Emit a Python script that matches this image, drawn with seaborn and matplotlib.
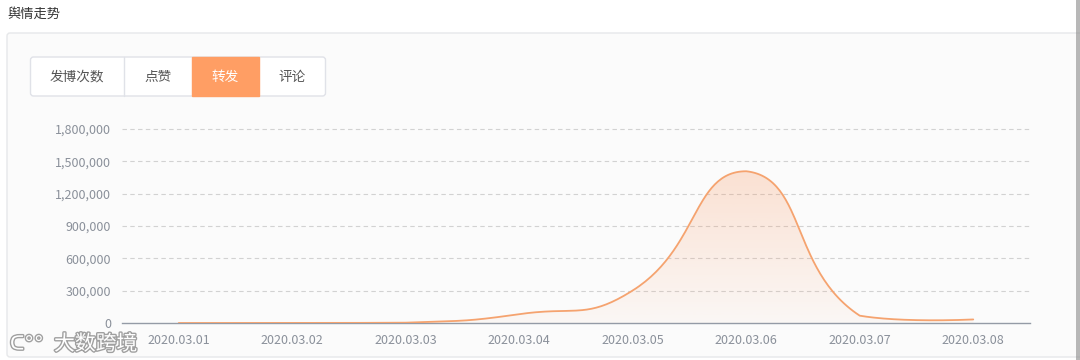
import numpy as np
import pandas as pd
import matplotlib
matplotlib.use("Agg")
import matplotlib.pyplot as plt
import seaborn as sns
from matplotlib.patches import Rectangle, FancyBboxPatch, Polygon
import matplotlib.patheffects as pe

# ---------------- data ----------------
dates = ["2020.03.01", "2020.03.02", "2020.03.03", "2020.03.04",
         "2020.03.05", "2020.03.06", "2020.03.07", "2020.03.08"]
reposts = [0, 800, 3000, 82000, 302000, 1408000, 68000, 33000]
y_ticks = [0, 300000, 600000, 900000, 1200000, 1500000, 1800000]
tabs = ["发博次数", "点赞", "转发", "评论"]
active_tab = "转发"
title = "舆情走势"
watermark = "大数跨境"

sns.set_theme(style="white")
plt.rcParams["font.family"] = ["Noto Sans CJK SC", "DejaVu Sans"]

W, H = 1080, 360
fig = plt.figure(figsize=(W / 100, H / 100), dpi=100, facecolor="white")

# background overlay axes in pixel coordinates
bg = fig.add_axes([0, 0, 1, 1], zorder=0)
bg.set_xlim(0, W)
bg.set_ylim(H, 0)
bg.axis("off")

# panel
bg.add_patch(FancyBboxPatch((7, 33), 1090, 324, boxstyle="round,pad=0,rounding_size=3",
                            facecolor="#fbfbfb", edgecolor="#e6e8ea", lw=1))
bg.add_patch(Rectangle((1076, 0), 4, H, facecolor="#8a8a8a", edgecolor="none", alpha=0.6))
bg.text(7, 14, title, ha="left", va="center", fontsize=9.5, color="#333333")

# tabs
tab_edges = [30.5, 124, 192, 259, 325.5]
ty0, ty1 = 57, 96
bg.add_patch(FancyBboxPatch((tab_edges[0], ty0), tab_edges[-1] - tab_edges[0], ty1 - ty0,
                            boxstyle="round,pad=0,rounding_size=3",
                            facecolor="white", edgecolor="#e0e2e8", lw=1))
for i, name in enumerate(tabs):
    x0, x1 = tab_edges[i], tab_edges[i + 1]
    if name == active_tab:
        bg.add_patch(Rectangle((x0, ty0), x1 - x0, ty1 - ty0, facecolor="#ff9e64",
                               edgecolor="#ff9e64", lw=1))
        col = "white"
    else:
        col = "#555555"
        if i > 0 and tabs[i - 1] != active_tab:
            bg.plot([x0, x0], [ty0, ty1], color="#e0e2e8", lw=1)
    bg.text((x0 + x1) / 2, (ty0 + ty1) / 2, name, ha="center", va="center",
            fontsize=9.8, color=col)

# watermark
stroke = [pe.withStroke(linewidth=2, foreground="#a0a0a0")]
bg.text(10, 344, "ᑕ°°", ha="left", va="center", fontsize=14, color="white",
        family=["DejaVu Sans"], zorder=5, path_effects=stroke)
bg.text(54, 344, watermark, ha="left", va="center", fontsize=15, color="white",
        zorder=5, path_effects=stroke)

# ---------------- main chart ----------------
left, right, bottom, top = 122, 1030, 323, 129
ax = fig.add_axes([left / W, (H - bottom) / H, (right - left) / W, (bottom - top) / H], zorder=2)
ax.set_facecolor("none")
x = np.arange(len(dates))
ax.set_xlim(-0.5, len(dates) - 0.5)
ax.set_ylim(0, 1800000)

# echarts-4 style smooth bezier computed in display space
pts = ax.transData.transform(np.column_stack([x, reposts]).astype(float))
mn, mx = pts.min(axis=0), pts.max(axis=0)
smooth = 0.5
curve = [pts[0]]
cp0 = pts[0].copy()
tt = np.linspace(0, 1, 60)[1:, None]
for i in range(1, len(pts)):
    p, prev = pts[i], pts[i - 1]
    if i + 1 < len(pts):
        nxt = pts[i + 1]
        v = nxt - prev
        lp, ln = np.linalg.norm(p - prev), np.linalg.norm(nxt - p)
        r = ln / (lp + ln)
        cp1 = p - v * smooth * (1 - r)
    else:
        v = None
        cp1 = p.copy()
    c0, c1 = np.clip(cp0, mn, mx), np.clip(cp1, mn, mx)
    seg = ((1 - tt) ** 3) * prev + 3 * ((1 - tt) ** 2) * tt * c0 + 3 * (1 - tt) * tt ** 2 * c1 + tt ** 3 * p
    curve.extend(seg)
    if v is not None:
        cp0 = p + v * smooth * r
curve = ax.transData.inverted().transform(np.array(curve))
df = pd.DataFrame({"x": curve[:, 0], "y": curve[:, 1]})

# gradient area
ymax = max(reposts)
grad = np.linspace(0.04, 0.26, 256)[:, None]
rgba = np.zeros((256, 1, 4))
rgba[..., 0], rgba[..., 1], rgba[..., 2] = 250 / 255, 150 / 255, 95 / 255
rgba[..., 3] = grad
im = ax.imshow(rgba, extent=[-0.5, len(dates) - 0.5, 0, ymax], origin="lower",
               aspect="auto", zorder=1)
poly = Polygon(np.vstack([df[["x", "y"]].values, [[df.x.iloc[-1], 0], [df.x.iloc[0], 0]]]),
               closed=True, transform=ax.transData, facecolor="none", edgecolor="none")
ax.add_patch(poly)
im.set_clip_path(poly)
ax.set_xlim(-0.5, len(dates) - 0.5)
ax.set_ylim(0, 1800000)

sns.lineplot(data=df, x="x", y="y", sort=False, estimator=None, ax=ax,
             color="#f5a36f", lw=1.3, zorder=3)

# grid + axes styling
for yv in y_ticks[1:]:
    ax.axhline(yv, color="#d2d2d2", lw=0.8, ls=(0, (4, 3)), zorder=0.5, clip_on=False)
ax.set_yticks(y_ticks)
ax.set_yticklabels([f"{v:,}" for v in y_ticks])
ax.set_xticks(x)
ax.set_xticklabels(dates)
ax.set_xlabel("")
ax.set_ylabel("")
for s in ["top", "right", "left"]:
    ax.spines[s].set_visible(False)
ax.spines["bottom"].set_color("#949ba6")
ax.spines["bottom"].set_linewidth(1)
ax.tick_params(axis="x", length=5, width=1, color="#949ba6", pad=3, labelsize=9, labelcolor="#8a909a")
ax.tick_params(axis="y", length=0, pad=8, labelsize=9, labelcolor="#8a909a")
ax.grid(False)

fig.savefig("out.png", dpi=100, facecolor="white")
